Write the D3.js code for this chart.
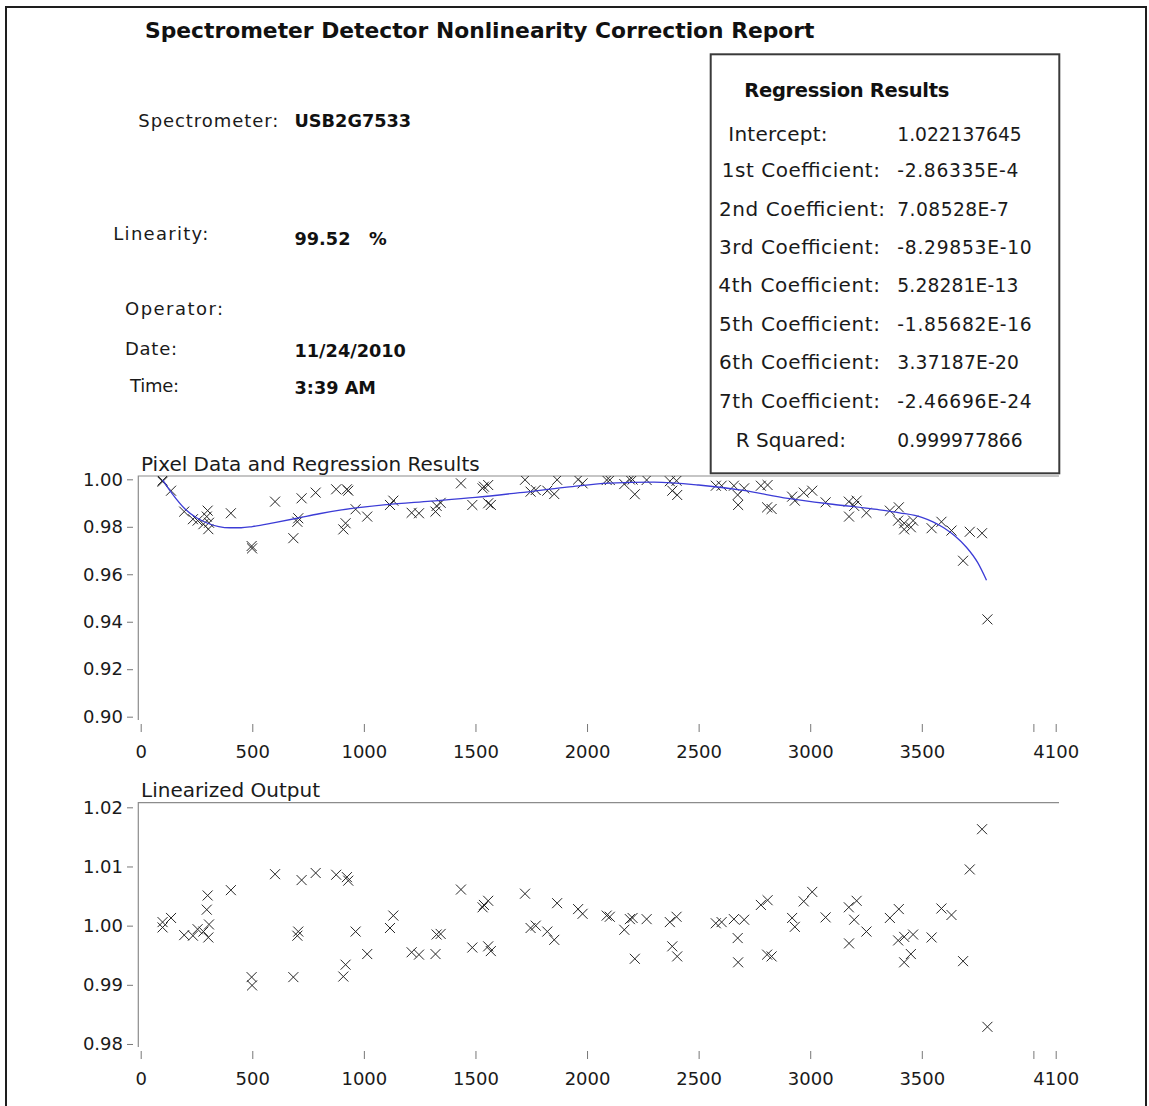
<!DOCTYPE html>
<html>
<head>
<meta charset="utf-8">
<script src="https://cdn.jsdelivr.net/npm/d3@7"></script>
<style>
  body { margin: 0; background: #fff; }
  svg { display: block; font-family: "DejaVu Sans", sans-serif; }
</style>
</head>
<body>
<svg id="chart"></svg>
<script>
let pixelCounts = [98, 98, 136, 195, 234, 255, 281, 300, 296, 306, 303, 404, 497, 499, 602, 684, 706, 702, 721, 784,
  876, 908, 918, 924, 930, 963, 1015, 1117, 1132, 1214, 1247, 1321, 1326, 1344, 1435, 1486, 1532, 1538, 1557, 1557,
  1569, 1722, 1747, 1770, 1822, 1853, 1866, 1960, 1980, 2088, 2102, 2167, 2192, 2204, 2214, 2267, 2371, 2401, 2382, 2404,
  2577, 2603, 2658, 2704, 2675, 2677, 2779, 2809, 2807, 2827, 2919, 2931, 2971, 3009, 3069, 3173, 3174, 3197, 3208, 3252,
  3357, 3397, 3394, 3421, 3421, 3451, 3461, 3544, 3588, 3633, 3685, 3715, 3770, 3794];

// normalised pixel response (top panel)
let pixelResponse = [0.9995, 0.9990, 0.9952, 0.9864, 0.9832, 0.9826, 0.9811, 0.9868, 0.9843, 0.9817, 0.9790, 0.9857, 0.9719, 0.9709, 0.9906, 0.9752, 0.9836, 0.9821, 0.9920, 0.9944,
  0.9958, 0.9789, 0.9815, 0.9958, 0.9952, 0.9874, 0.9843, 0.9892, 0.9910, 0.9859, 0.9857, 0.9864, 0.9888, 0.9901, 0.9983, 0.9892, 0.9962, 0.9969, 0.9976, 0.9899,
  0.9892, 0.9998, 0.9948, 0.9955, 0.9952, 0.9938, 0.9998, 0.9999, 0.9983, 0.9997, 0.9997, 0.9980, 0.9999, 0.9999, 0.9937, 0.9997, 0.9992, 0.9994, 0.9952, 0.9934,
  0.9973, 0.9973, 0.9973, 0.9962, 0.9934, 0.9892, 0.9973, 0.9976, 0.9882, 0.9875, 0.9927, 0.9910, 0.9944, 0.9952, 0.9903, 0.9906, 0.9843, 0.9888, 0.9910, 0.9859,
  0.9868, 0.9882, 0.9826, 0.9815, 0.9789, 0.9798, 0.9826, 0.9794, 0.9821, 0.9784, 0.9657, 0.9779, 0.9773, 0.9410];

// linearized output (bottom panel)
let linearized = [1.0006, 0.9997, 1.0013, 0.9984, 0.9983, 0.9994, 0.9990, 1.0051, 1.0027, 1.0002, 0.9980, 1.0060, 0.9913, 0.9899, 1.0087, 0.9913, 0.9990, 0.9983, 1.0077, 1.0089,
  1.0086, 0.9914, 0.9934, 1.0082, 1.0076, 0.9990, 0.9952, 0.9996, 1.0017, 0.9955, 0.9951, 0.9952, 0.9985, 0.9986, 1.0061, 0.9963, 1.0031, 1.0035, 1.0042, 0.9965,
  0.9957, 1.0054, 0.9996, 1.0000, 0.9990, 0.9976, 1.0038, 1.0028, 1.0020, 1.0017, 1.0015, 0.9993, 1.0011, 1.0013, 0.9944, 1.0011, 1.0006, 1.0015, 0.9965, 0.9948,
  1.0004, 1.0006, 1.0011, 1.0010, 0.9979, 0.9938, 1.0035, 1.0043, 0.9951, 0.9948, 1.0013, 0.9998, 1.0041, 1.0057, 1.0014, 1.0031, 0.9970, 1.0010, 1.0042, 0.9990,
  1.0013, 1.0028, 0.9975, 0.9981, 0.9938, 0.9952, 0.9985, 0.9980, 1.0029, 1.0018, 0.9940, 1.0095, 1.0163, 0.9829];

// regression curve as drawn
let fitCounts = [98, 140, 200, 250, 300, 350, 400, 450, 500, 600, 700, 800, 900, 1100, 1300, 1500, 1700, 1900, 2100, 2300,
  2500, 2700, 2900, 3100, 3300, 3400, 3500, 3550, 3600, 3650, 3700, 3750, 3790];
let fitValues = [0.9998, 0.9941, 0.9874, 0.9838, 0.9815, 0.9801, 0.9796, 0.9796, 0.9801, 0.9818, 0.9836, 0.9855, 0.9871, 0.9893, 0.9908, 0.9924, 0.9944, 0.9966, 0.9984, 0.9988,
  0.9976, 0.9953, 0.9920, 0.9895, 0.9873, 0.9859, 0.9840, 0.9821, 0.9795, 0.9760, 0.9714, 0.9650, 0.9575];

let xTicks = [0, 500, 1000, 1500, 2000, 2500, 3000, 3500, 4000, 4100];
let xTickLabels = ["0", "500", "1000", "1500", "2000", "2500", "3000", "3500", "", "4100"];
let topYTicks = [0.90, 0.92, 0.94, 0.96, 0.98, 1.00];
let bottomYTicks = [0.98, 0.99, 1.00, 1.01, 1.02];

let regLabels = ["Intercept:", "1st Coefficient:", "2nd Coefficient:", "3rd Coefficient:", "4th Coefficient:",
  "5th Coefficient:", "6th Coefficient:", "7th Coefficient:", "R Squared:"];
let regValues = ["1.022137645", "-2.86335E-4", "7.08528E-7", "-8.29853E-10", "5.28281E-13",
  "-1.85682E-16", "3.37187E-20", "-2.46696E-24", "0.999977866"];

let infoLabels = ["Spectrometer:", "Linearity:", "Operator:", "Date:", "Time:"];
let infoValues = ["USB2G7533", "99.52   %", "", "11/24/2010", "3:39 AM"];

// layout
let width = 1149;
let height = 1106;
let plotLeft = 138.3;
let plotRight = 1059;
let infoLayout = [
  { x: 138.3, y: 126.7, w: 140, vy: 126.7 },
  { x: 113.3, y: 240, w: 95, vy: 245 },
  { x: 125, y: 315, w: 98, vy: 315 },
  { x: 125, y: 355, w: 52, vy: 356.7 },
  { x: 130, y: 391.7, w: 49, vy: 394 }
];
let regRowY = [141, 177, 215.5, 253.5, 292, 330.5, 369, 408, 446.7];
let regLabelX = [728.3, 721.7, 719, 719, 718.3, 719, 719, 719, 735.7];
let regLabelW = [99.3, 158.3, 166, 161, 161.7, 161, 161, 161, 110.3];
let regValueW = [124.4, 121, 111.6, 134.4, 121, 134.4, 121.7, 134.4, 125.4];

let svg = d3.select("#chart").attr("width", width).attr("height", height);

let x = d3.scaleLinear().domain([0, 4100]).range([140.7, 1055.7]);
let yTop = d3.scaleLinear().domain([0.8986, 1.0014]).range([720, 476]);
let yBottom = d3.scaleLinear().domain([0.97949, 1.02078]).range([1047, 802.7]);

let drawHeader = () => {
  svg
    .append("rect")
    .attr("x", 6)
    .attr("y", 7)
    .attr("width", 1140)
    .attr("height", 1120)
    .attr("fill", "none")
    .attr("stroke", "#1e1e1e")
    .attr("stroke-width", 2);

  svg
    .append("text")
    .attr("x", 145)
    .attr("y", 38)
    .attr("font-size", 21.8)
    .attr("font-weight", "bold")
    .attr("fill", "#111")
    .text("Spectrometer Detector Nonlinearity Correction Report");

  infoLabels.forEach((label, i) => {
    let pos = infoLayout[i];
    svg
      .append("text")
      .attr("x", pos.x)
      .attr("y", pos.y)
      .attr("font-size", 18)
      .attr("fill", "#1a1a1a")
      .attr("textLength", pos.w)
      .attr("lengthAdjust", "spacing")
      .text(label);
    if (infoValues[i] !== "") {
      svg
        .append("text")
        .attr("x", 294.5)
        .attr("y", pos.vy)
        .attr("font-size", 17.7)
        .attr("font-weight", "bold")
        .attr("fill", "#111")
        .style("white-space", "pre")
        .text(infoValues[i]);
    }
  });
};

let drawRegressionBox = () => {
  svg
    .append("rect")
    .attr("x", 710.7)
    .attr("y", 54.3)
    .attr("width", 348.6)
    .attr("height", 419)
    .attr("fill", "#fff")
    .attr("stroke", "#3a3a3a")
    .attr("stroke-width", 2);

  svg
    .append("text")
    .attr("x", 744.3)
    .attr("y", 96.7)
    .attr("font-size", 19.5)
    .attr("font-weight", "bold")
    .attr("fill", "#111")
    .attr("textLength", 205)
    .attr("lengthAdjust", "spacing")
    .text("Regression Results");

  svg
    .selectAll(".reg-label")
    .data(regLabels)
    .enter()
    .append("text")
    .attr("class", "reg-label")
    .attr("x", (d, i) => regLabelX[i])
    .attr("y", (d, i) => regRowY[i])
    .attr("font-size", 20)
    .attr("fill", "#1a1a1a")
    .attr("textLength", (d, i) => regLabelW[i])
    .attr("lengthAdjust", "spacing")
    .text((d) => d);

  svg
    .selectAll(".reg-value")
    .data(regValues)
    .enter()
    .append("text")
    .attr("class", "reg-value")
    .attr("x", 897.3)
    .attr("y", (d, i) => regRowY[i])
    .attr("font-size", 18.7)
    .attr("fill", "#1a1a1a")
    .attr("textLength", (d, i) => regValueW[i])
    .attr("lengthAdjust", "spacing")
    .text((d) => d);
};

let cross = "M-5,-5L5,5M-5,5L5,-5";

let drawPanel = (id, title, y, yTicks, values, xAxisY, withFit) => {
  let [bottom, top] = y.range();

  svg
    .append("clipPath")
    .attr("id", id + "-clip")
    .append("rect")
    .attr("x", plotLeft)
    .attr("y", top)
    .attr("width", plotRight - plotLeft)
    .attr("height", bottom - top);

  // frame: left and top edges only
  svg
    .append("path")
    .attr("d", `M${plotLeft},${bottom}V${top}H${plotRight}`)
    .attr("fill", "none")
    .attr("stroke", "#8c8c8c")
    .attr("stroke-width", 1.2);

  svg
    .append("text")
    .attr("x", 141)
    .attr("y", top - 5.5)
    .attr("font-size", 20)
    .attr("fill", "#1a1a1a")
    .text(title);

  let yAxis = svg
    .append("g")
    .attr("transform", "translate(133, 0)")
    .call(d3.axisLeft(y).tickValues(yTicks).tickSize(6).tickPadding(4).tickFormat(d3.format(".2f")));
  yAxis.select(".domain").remove();
  yAxis.selectAll("line").attr("stroke", "#777");
  yAxis.selectAll("text").attr("font-size", 18).attr("font-family", "DejaVu Sans").attr("fill", "#1a1a1a");

  let xAxis = svg
    .append("g")
    .attr("transform", `translate(0, ${xAxisY})`)
    .call(d3.axisBottom(x).tickValues(xTicks).tickSize(8).tickPadding(13.5).tickFormat((d, i) => xTickLabels[i]));
  xAxis.select(".domain").remove();
  xAxis.selectAll("line").attr("stroke", "#777");
  xAxis.selectAll("text").attr("font-size", 18).attr("font-family", "DejaVu Sans").attr("fill", "#1a1a1a");

  let plot = svg.append("g").attr("clip-path", `url(#${id}-clip)`);

  plot
    .selectAll("path.pt")
    .data(values)
    .enter()
    .append("path")
    .attr("class", "pt")
    .attr("d", cross)
    .attr("transform", (d, i) => `translate(${x(pixelCounts[i])}, ${y(d)})`)
    .attr("fill", "none")
    .attr("stroke", "#262626")
    .attr("stroke-width", 1);

  if (withFit) {
    let line = d3
      .line()
      .x((d, i) => x(fitCounts[i]))
      .y((d) => y(d))
      .curve(d3.curveMonotoneX);
    plot
      .append("path")
      .attr("d", line(fitValues))
      .attr("fill", "none")
      .attr("stroke", "#3c3cd6")
      .attr("stroke-width", 1.3);
  }
};

drawHeader();
drawPanel("top", "Pixel Data and Regression Results", yTop, topYTicks, pixelResponse, 724, true);
drawPanel("bottom", "Linearized Output", yBottom, bottomYTicks, linearized, 1051, false);
drawRegressionBox();
</script>
</body>
</html>
